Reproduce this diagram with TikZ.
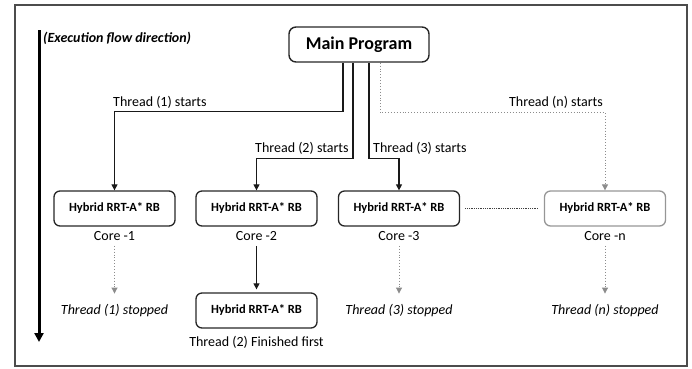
\documentclass[tikz,border=0pt]{standalone}
\usepackage{fontspec}
\setmainfont{Carlito}
\usetikzlibrary{arrows.meta,calc}
\definecolor{dgray}{RGB}{150,150,150}
\definecolor{lgray}{RGB}{140,140,140}
\begin{document}
\begin{tikzpicture}[x=1pt,y=-1pt,
  algbox/.style={draw=black!85,line width=1.3pt,rounded corners=6pt,minimum width=121pt,minimum height=35pt,inner sep=0pt,font=\fontsize{12.5}{14}\selectfont\bfseries},
  txt/.style={inner sep=0pt,font=\fontsize{14}{16}\selectfont},
  itxt/.style={inner sep=0pt,font=\fontsize{14}{16}\selectfont\itshape},
  flow/.style={draw=black!90,line width=1.2pt,-{Triangle[width=6pt,length=6pt]}},
  gflow/.style={draw=lgray,line width=0.9pt,dotted,-{Triangle[width=6pt,length=6pt]}}]
\useasboundingbox (0,0) rectangle (692,368);
\draw[line width=1.2pt,black!70] (15,5) rectangle (687,366);
% execution flow
\coordinate (ea) at (39,30);
\coordinate (eb) at (39,342);
\draw[line width=3pt,-{Triangle[width=9pt,length=9pt]}] (ea) -- (eb);
\node[anchor=west,inner sep=0pt,font=\fontsize{14}{16}\selectfont\bfseries\itshape] (elab) at (43,38) {(Execution flow direction)};
% main
\node[draw=black!85,line width=1.4pt,rounded corners=7pt,minimum width=140pt,minimum height=35pt,inner sep=0pt,font=\fontsize{18}{20}\selectfont\bfseries] (main) at (359,44.5) {Main Program};
% boxes
\node[algbox] (b1) at (114.5,208.5) {Hybrid RRT-A* RB};
\node[algbox] (b2) at (256.5,208.5) {Hybrid RRT-A* RB};
\node[algbox] (b3) at (399,208.5) {Hybrid RRT-A* RB};
\node[algbox,draw=dgray] (bn) at (605,208.5) {Hybrid RRT-A* RB};
\node[algbox] (b2f) at (256.5,310.5) {Hybrid RRT-A* RB};
% cores
\node[txt] (c1) at (114.5,236) {Core -1};
\node[txt] (c2) at (256.5,236) {Core -2};
\node[txt] (c3) at (399,236) {Core -3};
\node[txt] (cn) at (605,236) {Core -n};
% stopped
\node[itxt] (s1) at (114.5,311) {Thread (1) stopped};
\node[itxt] (s3) at (399,311) {Thread (3) stopped};
\node[itxt] (sn) at (605,311) {Thread (n) stopped};
\node[txt] (f2) at (256.5,342) {Thread (2) Finished first};
% thread start connectors
\draw[flow] ([xshift=-16pt]main.south) -- ++(0,49) -| (b1.north);
\draw[flow] ([xshift=-6pt]main.south) -- ++(0,96) -| (b2.north);
\draw[flow] ([xshift=10pt]main.south) -- ++(0,96) -| (b3.north);
\draw[gflow] ([xshift=21pt]main.south) -- ++(0,50) -| (bn.north);
\node[txt,anchor=south west] (l1) at (113,109) {Thread (1) starts};
\node[txt,anchor=south west] (l2) at (255,155) {Thread (2) starts};
\node[txt,anchor=south west] (l3) at (373,155) {Thread (3) starts};
\node[txt,anchor=south east] (ln) at (603,109) {Thread (n) starts};
% core to result
\draw[gflow,shorten <=5pt,shorten >=11pt] (c1.south) -- (c1.south |- s1.north);
\draw[gflow,shorten <=5pt,shorten >=11pt] (c3.south) -- (c3.south |- s3.north);
\draw[gflow,shorten <=5pt,shorten >=11pt] (cn.south) -- (cn.south |- sn.north);
\draw[flow,shorten <=5pt,shorten >=3pt] (c2.south) -- (b2f.north);
% between cores
\draw[densely dotted,line width=0.8pt,black!75,shorten <=5pt,shorten >=5pt] (b3.east) -- (bn.west);
\end{tikzpicture}
\end{document}
